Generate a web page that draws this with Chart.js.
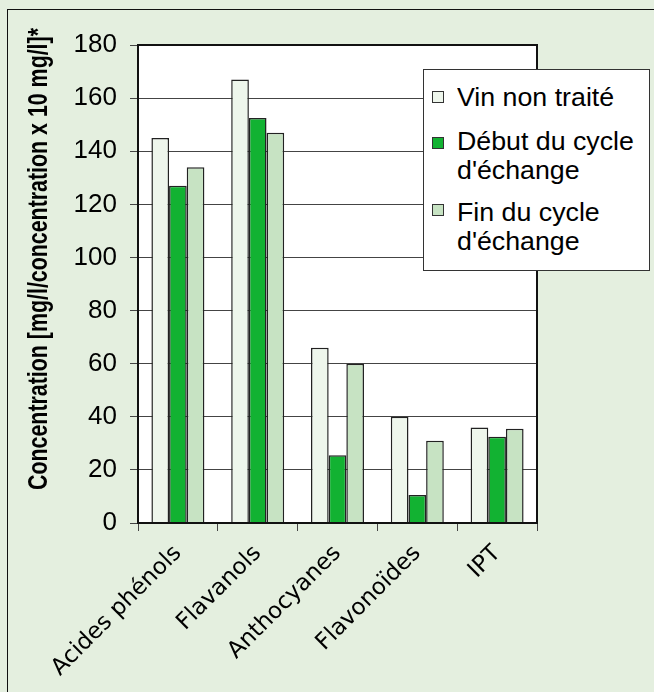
<!DOCTYPE html>
<html>
<head>
<meta charset="utf-8">
<script src="https://cdn.jsdelivr.net/npm/chart.js@4/dist/chart.umd.min.js"></script>
<style>
  html,body{margin:0;padding:0;background:#e4efdf;}
  #wrap{position:relative;width:654px;height:692px;overflow:hidden;}
  #frame{position:absolute;left:7px;top:9px;width:700px;height:720px;border:1.5px solid #111;box-sizing:border-box;pointer-events:none;}
  #legend{position:absolute;left:423px;top:69px;width:227px;height:202px;background:#fff;border:1.5px solid #333;box-sizing:border-box;font-family:"Liberation Sans",Arial,sans-serif;font-size:25px;color:#000;}
  .sw{position:absolute;width:12px;height:12px;border:1px solid #333;box-sizing:border-box;}
  .tx{position:absolute;left:33px;line-height:29px;white-space:nowrap;transform:scaleX(1.07);transform-origin:0 50%;}
</style>
</head>
<body>
<div id="wrap">
  <canvas id="c" width="654" height="692"></canvas>
  <div id="frame"></div>
  <div id="legend"></div>
</div>
<script>
const categories = ["Acides phénols", "Flavanols", "Anthocyanes", "Flavonoïdes", "IPT"];
const seriesNames = [["Vin non traité"], ["Début du cycle", "d'échange"], ["Fin du cycle", "d'échange"]];
const vinNonTraite = [145, 167, 66, 40, 36];
const debutCycle = [127, 152.5, 25.5, 10.5, 32.5];
const finCycle = [134, 147, 60, 31, 35.5];
const yTicks = [0, 20, 40, 60, 80, 100, 120, 140, 160, 180];
const yTitle = "Concentration [mg/l/concentration x 10 mg/l]*";
const colors = ["#eef6ec", "#12b232", "#c7e3c3"];

// legend (HTML text)
const legend = document.getElementById('legend');
const rows = [{sq: 21, lines: [13]}, {sq: 67, lines: [57, 86]}, {sq: 134, lines: [128, 157]}];
rows.forEach((r, i) => {
  const s = document.createElement('div');
  s.className = 'sw'; s.style.left = '8px'; s.style.top = r.sq + 'px'; s.style.background = colors[i];
  legend.appendChild(s);
  seriesNames[i].forEach((t, j) => {
    const d = document.createElement('div');
    d.className = 'tx'; d.style.top = r.lines[j] + 'px'; d.textContent = t;
    legend.appendChild(d);
  });
});

const plotDecor = {
  id: 'plotDecor',
  beforeDraw(chart) {
    const {ctx, chartArea: a} = chart;
    ctx.save();
    ctx.fillStyle = '#ffffff';
    ctx.fillRect(a.left, a.top, a.right - a.left, a.bottom - a.top);
    ctx.restore();
  },
  afterDraw(chart) {
    const {ctx, chartArea: a} = chart;
    ctx.save();
    ctx.strokeStyle = '#111';
    ctx.lineWidth = 2;
    ctx.strokeRect(a.left, a.top, a.right - a.left, a.bottom - a.top);
    ctx.translate(39, 259);
    ctx.rotate(-Math.PI / 2);
    ctx.fillStyle = '#000';
    ctx.font = 'bold 28px "Liberation Sans", Arial, sans-serif';
    const w = ctx.measureText(yTitle).width;
    ctx.scale(462 / w, 1);
    ctx.textAlign = 'center';
    ctx.textBaseline = 'middle';
    ctx.fillText(yTitle, 0, 0);
    ctx.restore();
  }
};

new Chart(document.getElementById('c'), {
  type: 'bar',
  data: {
    labels: categories,
    datasets: [
      {label: seriesNames[0].join(' '), data: vinNonTraite, backgroundColor: colors[0]},
      {label: seriesNames[1].join(' '), data: debutCycle, backgroundColor: colors[1]},
      {label: seriesNames[2].join(' '), data: finCycle, backgroundColor: colors[2]}
    ].map(d => Object.assign(d, {borderColor: '#222', borderWidth: 1.5, categoryPercentage: 0.664, barPercentage: 1}))
  },
  options: {
    responsive: false,
    animation: false,
    layout: {padding: {left: 0, right: 117, top: 45, bottom: 0}},
    plugins: {legend: {display: false}, tooltip: {enabled: false}},
    scales: {
      x: {
        grid: {drawOnChartArea: false, drawTicks: true, tickLength: 8, color: '#444', offset: true},
        border: {display: true, color: '#111', width: 2},
        ticks: {
          color: '#000', maxRotation: 45, minRotation: 45, padding: 9,
          font: {family: '"DejaVu Sans", Tahoma, Verdana, sans-serif', size: 23}
        },
        afterFit(s) { s.height = 169; }
      },
      y: {
        min: 0, max: 180,
        afterBuildTicks(s) { s.ticks = yTicks.map(v => ({value: v})); },
        grid: {color: '#444', lineWidth: 1, tickLength: 8},
        border: {display: true, color: '#111', width: 2},
        ticks: {
          color: '#000', padding: 13,
          font: {family: '"Liberation Sans", Arial, sans-serif', size: 26}
        },
        afterFit(s) { s.width = 138; }
      }
    }
  },
  plugins: [plotDecor]
});
</script>
</body>
</html>
